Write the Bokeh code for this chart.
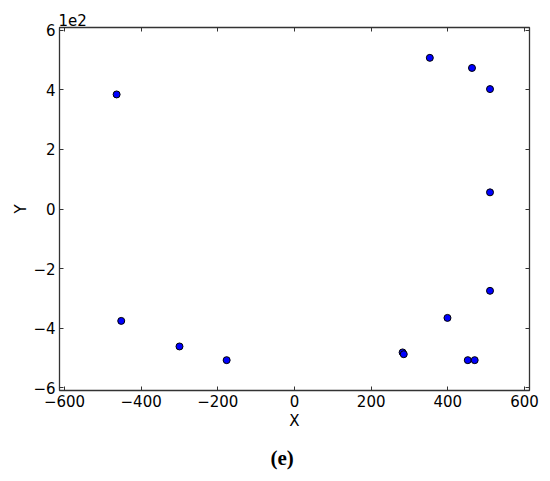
from bokeh.plotting import figure
from bokeh.models import FixedTicker, LinearAxis, Range1d, Title
from bokeh.embed import file_html
from bokeh.resources import INLINE

# data (Y in real units, displayed with a 1e2 offset)
x_vals = [-464, -452, -300, -177, 282, 285, 353, 399, 452, 470, 463, 510, 510, 510]
y_vals = [385, -376, -462, -508, -482, -488, 508, -366, -508, -508, 474, 403, 56, -275]

x_ticks = [-600, -400, -200, 0, 200, 400, 600]
x_tick_labels = ["\u2212600", "\u2212400", "\u2212200", "0", "200", "400", "600"]
y_ticks = [-600, -400, -200, 0, 200, 400, 600]
y_tick_labels = ["\u22126", "\u22124", "\u22122", "0", "2", "4", "6"]

FONT = "DejaVu Sans"
FS = "15px"
TICKC = "#333333"

p = figure(width=550, height=481, output_backend="svg", toolbar_location=None,
           x_range=Range1d(-613, 613), y_range=Range1d(-610, 610),
           min_border_left=59, min_border_right=21, min_border_top=27, min_border_bottom=90,
           background_fill_color="white", border_fill_color="white")
p.grid.visible = False
p.outline_line_color = "#333333"
p.outline_line_width = 1.3

def style(ax, ticks, labels, show_labels=True):
    ax.ticker = FixedTicker(ticks=ticks)
    ax.major_tick_in = 4
    ax.major_tick_out = 0
    ax.minor_tick_in = 0
    ax.minor_tick_out = 0
    ax.major_tick_line_color = TICKC
    ax.axis_line_color = None
    ax.major_label_text_font = FONT
    ax.major_label_text_color = "black"
    ax.major_label_text_font_size = FS
    if show_labels:
        ax.major_label_overrides = {t: l for t, l in zip(ticks, labels)}
        ax.major_label_standoff = 4
    else:
        ax.major_label_overrides = {t: "" for t in ticks}
        ax.major_label_standoff = 0

style(p.xaxis[0], x_ticks, x_tick_labels)
style(p.yaxis[0], y_ticks, y_tick_labels)
p.xaxis[0].axis_label = "X"
p.yaxis[0].axis_label = "Y"
for ax, st in ((p.xaxis[0], 2), (p.yaxis[0], 0)):
    ax.axis_label_text_font = FONT
    ax.axis_label_text_font_size = FS
    ax.axis_label_text_font_style = "normal"
    ax.axis_label_text_color = "black"
    ax.axis_label_standoff = st

top = LinearAxis()
style(top, x_ticks, x_tick_labels, show_labels=False)
p.add_layout(top, "above")
right = LinearAxis()
style(right, y_ticks, y_tick_labels, show_labels=False)
p.add_layout(right, "right")

p.scatter(x_vals, y_vals, size=7, fill_color="#0000ff", line_color="black", line_width=1)

p.add_layout(Title(text="1e2", align="left", offset=-1, standoff=3,
                   text_font=FONT, text_font_size=FS, text_font_style="normal",
                   text_color="black"), "above")
p.add_layout(Title(text="(e)", align="left", offset=211, standoff=23,
                   text_font="Liberation Serif", text_font_style="bold",
                   text_font_size="21px", text_color="black"), "below")

open("out.html", "w").write(file_html(p, INLINE))
